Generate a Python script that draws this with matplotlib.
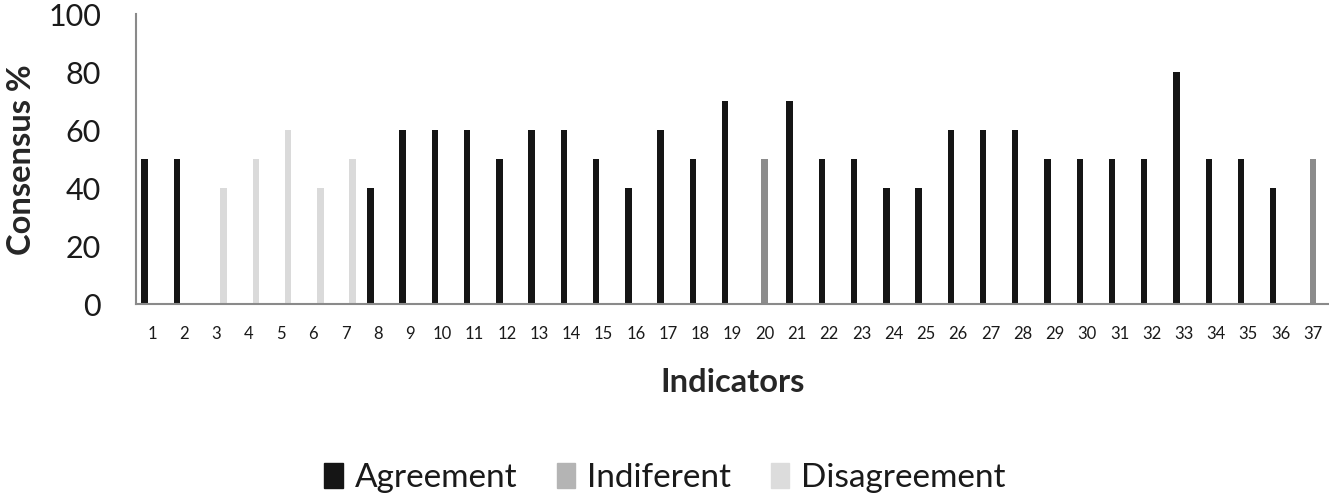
import numpy as np
import matplotlib
matplotlib.use('Agg')
import matplotlib.pyplot as plt
from matplotlib.patches import Patch

plt.rcParams['font.family'] = ['Lato', 'DejaVu Sans']

# Data
indicators = list(range(1, 38))
categories = ['A', 'A', 'D', 'D', 'D', 'D', 'D', 'A', 'A', 'A',
              'A', 'A', 'A', 'A', 'A', 'A', 'A', 'A', 'A', 'I',
              'A', 'A', 'A', 'A', 'A', 'A', 'A', 'A', 'A', 'A',
              'A', 'A', 'A', 'A', 'A', 'A', 'I']
consensus = [50, 50, 40, 50, 60, 40, 50, 40, 60, 60,
             60, 50, 60, 60, 50, 40, 60, 50, 70, 50,
             70, 50, 50, 40, 40, 60, 60, 60, 50, 50,
             50, 50, 80, 50, 50, 40, 50]
series_names = ['Agreement', 'Indiferent', 'Disagreement']
series_keys = ['A', 'I', 'D']

colors = {'A': '#151515', 'I': '#8c8c8c', 'D': '#dadada'}
legend_colors = ['#151515', '#b4b4b4', '#dcdcdc']
offsets = {'A': -0.23, 'I': 0.0, 'D': 0.22}
width = 0.2

fig = plt.figure(figsize=(13.29, 4.97), dpi=100)
ax = fig.add_axes([0.1023, 0.3883, 0.8977, 0.5835])

x = np.array(indicators)
for key in series_keys:
    vals = np.array([v if c == key else 0 for v, c in zip(consensus, categories)])
    ax.bar(x + offsets[key], vals, width=width, color=colors[key])

ax.set_xlim(0.5, 37.5)
ax.set_ylim(0, 100)
ax.set_yticks([0, 20, 40, 60, 80, 100])
ax.set_xticks(x)
ax.set_xticklabels([str(i) for i in indicators])
ax.tick_params(axis='y', length=0, pad=25, labelsize=22, labelcolor='#1a1a1a')
ax.tick_params(axis='x', length=0, pad=16, labelsize=12, labelcolor='#1a1a1a')

for side in ['top', 'right']:
    ax.spines[side].set_visible(False)
for side in ['left', 'bottom']:
    ax.spines[side].set_color('#8a8a8a')
    ax.spines[side].set_linewidth(1.5)

ax.set_xlabel('Indicators', fontsize=23.5, fontweight='bold', color='#262626', va='center')
ax.xaxis.set_label_coords(0.5, -0.269)
ax.set_ylabel('Consensus %', fontsize=23.5, fontweight='bold', color='#262626', va='center')
ax.yaxis.set_label_coords(-0.0956, 0.497)

handles = [Patch(color=c) for c in legend_colors]
fig.legend(handles, series_names, loc='center', bbox_to_anchor=(0.5004, 0.0382),
           ncol=3, frameon=False, fontsize=24, handlelength=0.55, handleheight=0.8,
           handletextpad=0.35, columnspacing=1.2, labelcolor='#1a1a1a')

fig.savefig('out.png', dpi=100)
